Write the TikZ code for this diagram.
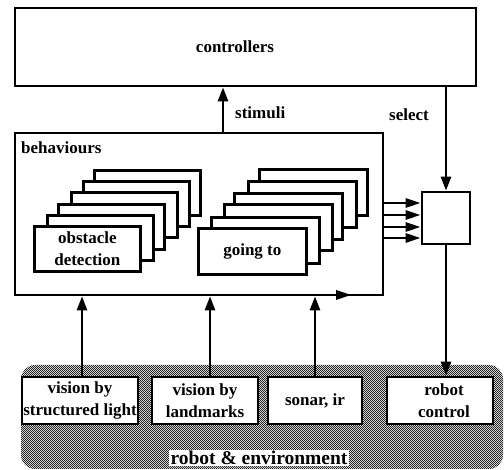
\documentclass[tikz,border=0pt]{standalone}
\usepackage{fontspec}
\setmainfont{Liberation Serif}
\usetikzlibrary{arrows.meta,patterns}
\pgfdeclarepatternformonly{checks}{\pgfpointorigin}{\pgfpoint{2.4pt}{2.4pt}}{\pgfpoint{2.4pt}{2.4pt}}{%
 \pgfpathrectangle{\pgfpointorigin}{\pgfpoint{1.2pt}{1.2pt}}%
 \pgfpathrectangle{\pgfpoint{1.2pt}{1.2pt}}{\pgfpoint{1.2pt}{1.2pt}}%
 \pgfusepath{fill}}
\begin{document}
\begin{tikzpicture}[x=1pt,y=-1pt,
 box/.style={draw,line width=2.7pt,fill=white,inner sep=0pt,align=center,font=\bfseries\fontsize{17}{22}\selectfont},
 arr/.style={line width=2.7pt,-{Triangle[length=14pt,width=10pt]}},
 sarr/.style={line width=2.7pt,-{Triangle[length=15pt,width=9pt]}},
 lbl/.style={font=\bfseries\fontsize{17}{22}\selectfont,inner sep=0pt}]
\useasboundingbox (0,0) rectangle (504,470);
\fill[white] (0,0) rectangle (504,470);
% robot & environment region
\fill[black!8, rounded corners=14pt] (21,365) rectangle (503,469);
\fill[pattern=checks, pattern color=black!85, rounded corners=14pt] (21,365) rectangle (503,469);
% controllers
\node[box, minimum width=461pt, minimum height=78pt] (ctrl) at (245.5,47) {};
\node[lbl] (ctrltxt) at (235,47) {controllers};
% behaviours
\node[box, minimum width=368pt, minimum height=162pt] (beh) at (199,214) {};
\node[lbl, anchor=west] (behtxt) at (21,148) {behaviours};
% obstacle detection stack
\foreach \x/\y [count=\i] in {93/169,82/180,70/191,57/203,46/214}
  \node[box, minimum width=106pt, minimum height=45pt, anchor=north west] (ob\i) at (\x,\y) {};
\node[box, minimum width=106pt, minimum height=45pt, anchor=north west] (ob) at (33,225) {obstacle\\detection};
% going to stack
\foreach \x/\y [count=\i] in {258/168,247/180,233/192,223/203,210/216}
  \node[box, minimum width=108pt, minimum height=46pt, anchor=north west] (go\i) at (\x,\y) {};
\node[box, minimum width=108pt, minimum height=46pt, anchor=north west] (go) at (197,227) {going to};
% selector
\node[box, minimum width=48pt, minimum height=52pt] (sel) at (446,218) {};
% sensors
\node[box, minimum width=116pt, minimum height=47pt] (s1) at (80,400.5) {vision by\\structured light};
\node[box, minimum width=106pt, minimum height=47pt] (s2) at (205,400.5) {vision by\\landmarks};
\node[box, minimum width=94pt, minimum height=47pt] (s3) at (315,400.5) {sonar, ir};
\node[box, minimum width=106pt, minimum height=47pt] (s4) at (440,400.5) {\hspace*{8pt}robot\\\hspace*{8pt}control};
% coordinates for connector x positions
\coordinate (xa) at (82,0);
\coordinate (xb) at (210,0);
\coordinate (xc) at (315,0);
\coordinate (xs) at (223,0);
\coordinate (ya) at (0,203);
\coordinate (yb) at (0,215);
\coordinate (yc) at (0,227);
\coordinate (yd) at (0,238);
% connectors
\draw[arr] (s1.north -| xa) -- (beh.south -| xa);
\draw[arr] (s2.north -| xb) -- (beh.south -| xb);
\draw[arr] (s3.north -| xc) -- (beh.south -| xc);
\draw[arr] (beh.north -| xs) -- (ctrl.south -| xs);
\draw[arr] (ctrl.south -| sel.north) -- (sel.north);
\draw[arr] (sel.south) -- (s4.north -| sel.south);
\draw[sarr] (beh.east |- ya) -- (sel.west |- ya);
\draw[sarr] (beh.east |- yb) -- (sel.west |- yb);
\draw[sarr] (beh.east |- yc) -- (sel.west |- yc);
\draw[sarr] (beh.east |- yd) -- (sel.west |- yd);
% arrowhead mark on bottom of behaviours
\fill (336,290) -- (351,295) -- (336,300) -- cycle;
% labels
\node[lbl, anchor=west] (stim) at (235,113) {stimuli};
\node[lbl, anchor=west] (seltxt) at (389,115) {select};
\node[fill=white, inner sep=1.5pt, font=\bfseries\fontsize{19.5}{22}\selectfont] (env) at (259,458) {robot \& environment};
\end{tikzpicture}
\end{document}
